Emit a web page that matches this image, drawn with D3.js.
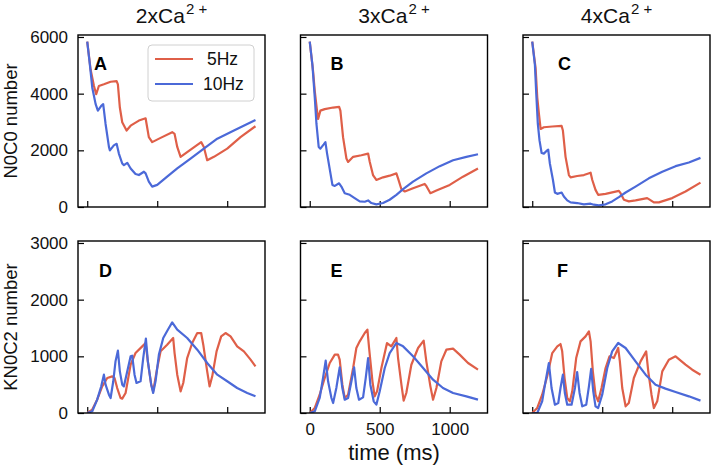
<!DOCTYPE html>
<html><head><meta charset="utf-8">
<script src="https://cdn.jsdelivr.net/npm/d3@7"></script>
<style>
html,body{margin:0;padding:0;background:#fff;}
text{font-family:"Liberation Sans",Arial,Helvetica,sans-serif;}
</style></head>
<body>
<svg id="chart" width="712" height="469"></svg>
<script>
// ---------- data ----------
const columnTitles = ["2xCa", "3xCa", "4xCa"];
const panelLetters = ["A", "B", "C", "D", "E", "F"];
const seriesNames = ["5Hz", "10Hz"];
const topYTicks = [0, 2000, 4000, 6000];
const bottomYTicks = [0, 1000, 2000, 3000];
const xTicks = [0, 500, 1000];

// N0C0 number, [time ms, value]
const a5 = [[0,5840],[24,4850],[48,4270],[64,3980],[83,4270],[119,4330],[167,4420],[210,4440],[219,4330],[233,3510],[250,2990],[281,2700],[310,2870],[369,3050],[417,3130],[424,2930],[440,2465],[464,2290],[524,2440],[607,2640],[624,2580],[643,2120],[667,1770],[714,1940],[814,2290],[833,2120],[857,1650],[905,1770],[1000,2060],[1095,2465],[1202,2850]];
const a10 = [[0,5840],[19,5020],[36,4210],[60,3630],[76,3400],[100,3570],[114,3630],[131,2930],[155,2120],[162,2000],[190,2175],[210,2230],[226,1885],[250,1535],[262,1477],[286,1560],[310,1360],[345,1163],[369,1128],[405,1244],[417,1186],[440,895],[464,720],[500,780],[571,1070],[643,1360],[738,1710],[833,2060],[929,2410],[1048,2700],[1202,3070]];
const b5 = [[0,5840],[24,4790],[36,4090],[52,3400],[60,3105],[76,3400],[107,3455],[167,3510],[210,3535],[219,3400],[238,2465],[262,1710],[274,1590],[310,1770],[369,1825],[417,1885],[429,1590],[452,1128],[476,955],[524,1047],[571,1105],[619,1186],[631,1012],[655,628],[679,547],[738,663],[821,814],[833,744],[862,488],[905,580],[1000,780],[1095,1070],[1202,1360]];
const b10 = [[0,5840],[19,5020],[36,3860],[48,2930],[64,2120],[76,2060],[100,2210],[112,2290],[124,1885],[148,1186],[162,780],[179,744],[210,837],[226,721],[250,488],[286,430],[321,314],[357,198],[393,186],[417,233],[440,140],[476,93],[524,140],[571,256],[619,430],[667,628],[738,896],[833,1186],[929,1442],[1024,1650],[1119,1768],[1202,1860]];
const c5 = [[0,5840],[24,4900],[36,3860],[48,3280],[60,2755],[83,2815],[143,2840],[210,2860],[219,2700],[238,1770],[262,1128],[274,1047],[321,1093],[369,1128],[417,1210],[429,954],[452,605],[471,430],[524,465],[619,570],[631,488],[655,256],[690,198],[738,233],[821,314],[833,279],[869,163],[905,163],[1000,314],[1095,547],[1202,860]];
const c10 = [[0,5840],[19,5020],[29,3975],[40,2930],[52,2350],[67,1907],[83,1885],[107,2000],[114,2024],[126,1535],[148,954],[162,512],[179,465],[210,512],[226,372],[250,233],[274,163],[321,140],[369,93],[417,116],[440,81],[476,58],[524,93],[571,198],[619,349],[667,512],[738,721],[833,1012],[929,1244],[1024,1442],[1119,1570],[1202,1733]];

// KN0C2 number, [time ms, value]
const d5 = [[0,0],[36,60],[71,235],[107,470],[143,617],[179,647],[195,617],[214,440],[238,265],[250,253],[274,353],[310,853],[345,1058],[393,1176],[417,1235],[433,911],[457,500],[471,382],[500,794],[524,1088],[571,1205],[614,1323],[624,1058],[643,676],[667,382],[686,530],[714,970],[750,1235],[786,1411],[814,1411],[829,1205],[857,735],[874,470],[893,647],[924,1088],[957,1352],[988,1411],[1024,1352],[1071,1176],[1119,1088],[1167,941],[1202,823]];
const d10 = [[0,0],[36,30],[71,235],[100,470],[119,676],[131,500],[155,323],[167,265],[186,560],[202,911],[219,1100],[233,735],[250,500],[262,470],[286,735],[310,1000],[321,1011],[338,676],[352,530],[381,560],[400,970],[419,1311],[433,911],[457,500],[471,353],[488,560],[512,1030],[543,1323],[576,1470],[607,1600],[643,1470],[714,1323],[786,1117],[857,882],[929,676],[1000,560],[1071,441],[1143,353],[1202,294]];
const e5 = [[0,0],[36,90],[71,323],[107,617],[143,882],[179,1030],[202,1030],[214,941],[233,500],[250,265],[274,323],[310,794],[333,1147],[357,1264],[393,1411],[412,1470],[424,1147],[448,559],[464,294],[481,382],[512,794],[552,1235],[583,1176],[619,1323],[631,970],[655,500],[671,217],[690,353],[726,852],[774,1147],[814,1276],[833,911],[862,470],[881,235],[905,441],[940,911],[976,1117],[1024,1135],[1071,1030],[1131,882],[1202,764]];
const e10 = [[0,0],[36,30],[71,265],[95,617],[114,923],[131,559],[155,265],[167,176],[190,441],[214,806],[233,441],[250,235],[274,265],[298,559],[317,806],[333,441],[352,235],[381,276],[400,617],[417,970],[433,500],[457,206],[476,147],[500,382],[536,794],[571,1058],[619,1235],[667,1176],[738,1000],[810,794],[881,588],[952,441],[1024,353],[1119,294],[1202,235]];
const f5 = [[0,0],[36,90],[71,323],[107,647],[143,1058],[179,1176],[202,1217],[214,1088],[231,617],[250,265],[269,206],[286,382],[314,970],[345,1264],[381,1352],[405,1441],[417,1264],[433,735],[452,323],[471,206],[495,441],[524,794],[552,1000],[583,970],[614,1147],[626,911],[643,441],[667,118],[690,176],[726,617],[774,911],[814,1088],[829,735],[852,323],[869,88],[893,206],[929,735],[976,941],[1024,1000],[1095,853],[1143,764],[1202,676]];
const f10 = [[0,0],[36,0],[71,206],[95,559],[119,882],[138,441],[162,147],[186,176],[202,441],[219,676],[233,353],[250,147],[281,147],[305,441],[321,723],[338,353],[357,118],[386,147],[405,470],[421,780],[436,382],[452,118],[471,88],[500,323],[536,794],[571,1088],[614,1235],[667,1147],[738,911],[810,676],[881,500],[952,430],[1024,370],[1119,294],[1202,218]];

const topSeries = [[a5, a10], [b5, b10], [c5, c10]];
const bottomSeries = [[d5, d10], [e5, e10], [f5, f10]];

// ---------- layout ----------
const colors = ["#df5f48", "#4b69d8"];
const panelLeft = [78, 300.5, 523];
const panelW = 187;
const rowTop = [35, 241];
const panelH = 172;
const letterPos = [[16, 28], [30, 28], [35, 28], [21, 29], [30, 29], [34, 29]];

const svg = d3.select("#chart");

function drawPanel(col, row, series, yMax, yTicks) {
  const x0 = panelLeft[col], y0 = rowTop[row];
  const g = svg.append("g").attr("transform", `translate(${x0},${y0})`);
  const x = d3.scaleLinear().domain([-66, 1270]).range([0, panelW]);
  const y = d3.scaleLinear().domain([0, yMax]).range([panelH, 0]);

  const xAxis = d3.axisBottom(x).tickValues(xTicks).tickSizeInner(-6).tickSizeOuter(0).tickPadding(10)
    .tickFormat((row === 1 && col === 1) ? d3.format("d") : () => "");
  const yAxis = d3.axisLeft(y).tickValues(yTicks).tickSizeInner(-6).tickSizeOuter(0).tickPadding(10)
    .tickFormat(col === 0 ? d3.format("d") : () => "");

  const gx = g.append("g").attr("transform", `translate(0,${panelH})`).call(xAxis);
  const gy = g.append("g").call(yAxis);
  [gx, gy].forEach(a => {
    a.select(".domain").remove();
    a.selectAll(".tick line").attr("stroke", "#000").attr("stroke-width", 1.2);
    a.selectAll(".tick text").attr("fill", "#111").style("font-size", "17px")
      .style("font-family", '"Liberation Sans",Arial,sans-serif');
  });

  const line = d3.line().x(d => x(d[0])).y(d => y(d[1]));
  g.append("defs").append("clipPath").attr("id", `clip${row}${col}`)
    .append("rect").attr("width", panelW).attr("height", panelH);
  series.forEach((s, i) => {
    g.append("path").datum(s).attr("d", line).attr("fill", "none")
      .attr("stroke", colors[i]).attr("stroke-width", 2.2)
      .attr("stroke-linejoin", "round").attr("clip-path", `url(#clip${row}${col})`);
  });

  g.append("rect").attr("width", panelW).attr("height", panelH)
    .attr("fill", "none").attr("stroke", "#000").attr("stroke-width", 1.4);

  const li = row * 3 + col;
  g.append("text").attr("x", letterPos[li][0]).attr("y", letterPos[li][1] + 7)
    .attr("font-weight", "bold").style("font-size", "18px").text(panelLetters[li]);

  if (row === 0) {
    const t = svg.append("text").attr("x", x0 + panelW / 2).attr("y", 23)
      .attr("text-anchor", "middle").style("font-size", "21px").attr("fill", "#111");
    t.append("tspan").text(columnTitles[col]);
    t.append("tspan").attr("dy", -9).attr("dx", 1).style("font-size", "15px").text("2 +");
  }
  return { x, y, g };
}

for (let c = 0; c < 3; c++) {
  drawPanel(c, 0, topSeries[c], 6070, topYTicks);
  drawPanel(c, 1, bottomSeries[c], 3035, bottomYTicks);
}

// legend in panel A
const lg = svg.append("g").attr("transform", "translate(148,45)");
lg.append("rect").attr("width", 106).attr("height", 56).attr("rx", 4)
  .attr("fill", "#fff").attr("fill-opacity", 0.85).attr("stroke", "#d0d0d0").attr("stroke-width", 1);
seriesNames.forEach((n, i) => {
  const yy = 14 + i * 25;
  lg.append("line").attr("x1", 7).attr("x2", 45).attr("y1", yy).attr("y2", yy)
    .attr("stroke", colors[i]).attr("stroke-width", 2.2);
  lg.append("text").attr("x", i === 0 ? 59 : 55).attr("y", yy + 6).style("font-size", "17.5px")
    .attr("fill", "#111").text(n);
});

// axis labels
svg.append("text").attr("transform", "translate(17,121) rotate(-90)")
  .attr("text-anchor", "middle").style("font-size", "18.5px").attr("fill", "#111").text("N0C0 number");
svg.append("text").attr("transform", "translate(17,327) rotate(-90)")
  .attr("text-anchor", "middle").style("font-size", "18.5px").attr("fill", "#111").text("KN0C2 number");
svg.append("text").attr("x", 394).attr("y", 460)
  .attr("text-anchor", "middle").style("font-size", "22px").attr("fill", "#111").text("time (ms)");
</script>
</body></html>
